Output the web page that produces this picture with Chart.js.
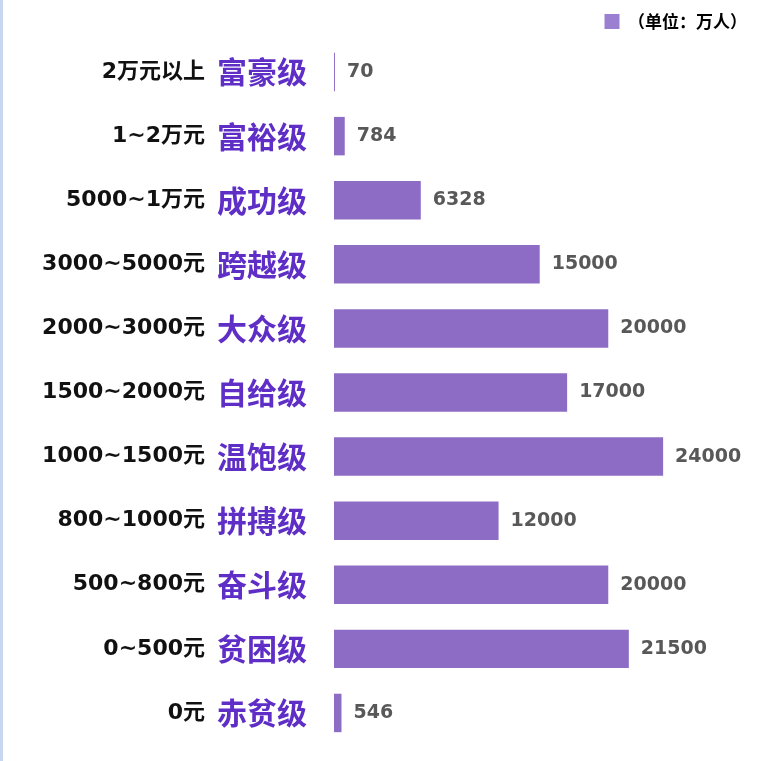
<!DOCTYPE html>
<html>
<head>
<meta charset="utf-8">
<script src="https://cdn.jsdelivr.net/npm/chart.js@4"></script>
<style>
  html, body { margin: 0; padding: 0; background: #fff; }
  #wrap { position: relative; width: 775px; height: 761px; }
  #edge { position: absolute; left: 0; top: 0; width: 3px; height: 761px; background: #c8d6f2; }
</style>
</head>
<body>
<div id="wrap">
  <canvas id="chart" width="775" height="761"></canvas>
  <div id="edge"></div>
</div>
<script>
// income ranges (left black text) and level names (purple text), top to bottom
const ranges = ["2万元以上", "1~2万元", "5000~1万元", "3000~5000元", "2000~3000元",
  "1500~2000元", "1000~1500元", "800~1000元", "500~800元", "0~500元", "0元"];
const levels = ["富豪级", "富裕级", "成功级", "跨越级", "大众级",
  "自给级", "温饱级", "拼搏级", "奋斗级", "贫困级", "赤贫级"];
const people = [70, 784, 6328, 15000, 20000, 17000, 24000, 12000, 20000, 21500, 546];
const seriesName = "（单位：万人）";

const barColor = "#8d6cc6";
const levelColor = "#5e2ec6";
const latin = "'DejaVu Sans', 'Noto Sans CJK SC', sans-serif";

// draws the two-part category labels and the value labels
const labelPlugin = {
  id: "labels",
  afterDatasetsDraw(chart) {
    const ctx = chart.ctx;
    const y = chart.scales.y;
    const meta = chart.getDatasetMeta(0);
    ctx.save();
    ctx.textBaseline = "middle";
    ranges.forEach((r, i) => {
      const py = y.getPixelForValue(i);
      ctx.textAlign = "right";
      ctx.fillStyle = "#111";
      ctx.font = "bold 22px " + latin;
      ctx.fillText(r, 205, py);
      ctx.textAlign = "left";
      ctx.fillStyle = levelColor;
      ctx.font = "bold 30px 'Noto Sans CJK SC', sans-serif";
      ctx.fillText(levels[i], 217, py);
      const bar = meta.data[i];
      ctx.fillStyle = "#585858";
      ctx.font = "bold 19px " + latin;
      ctx.fillText(String(people[i]), bar.x + 12, py);
    });
    ctx.restore();
  }
};

new Chart(document.getElementById("chart"), {
  type: "bar",
  data: {
    labels: levels,
    datasets: [{
      label: seriesName,
      data: people,
      backgroundColor: barColor,
      borderWidth: 0,
      barPercentage: 0.6,
      categoryPercentage: 1
    }]
  },
  options: {
    indexAxis: "y",
    responsive: false,
    animation: false,
    layout: { padding: { left: 334, right: 20, top: 5, bottom: 16 } },
    scales: {
      x: { display: false, min: 0, max: 30700 },
      y: { display: false }
    },
    plugins: {
      legend: {
        position: "top",
        align: "end",
        labels: {
          color: "#333",
          font: { family: "'Noto Sans CJK SC', sans-serif", size: 17, weight: "bold" },
          boxWidth: 15,
          boxHeight: 15,
          padding: 8,
          generateLabels: () => [{
            text: seriesName,
            fillStyle: "#9b80d2",
            strokeStyle: "#9b80d2",
            lineWidth: 0
          }]
        }
      },
      tooltip: { enabled: false }
    }
  },
  plugins: [labelPlugin]
});
</script>
</body>
</html>
